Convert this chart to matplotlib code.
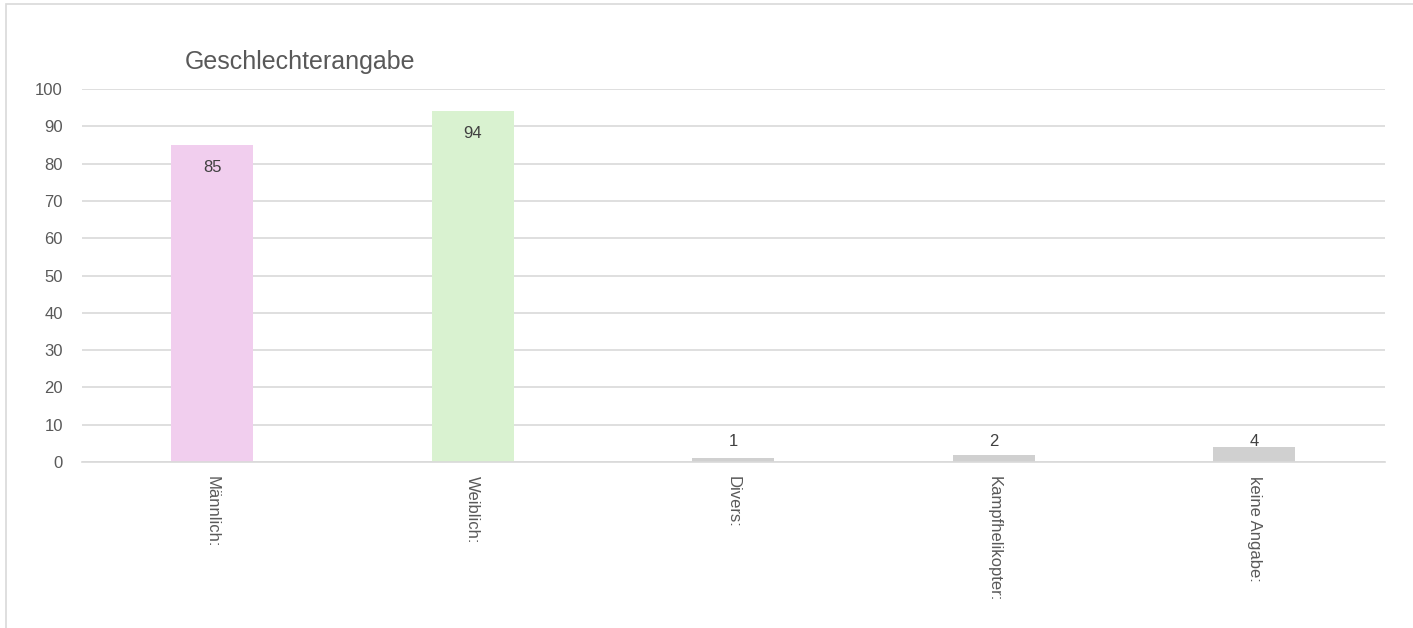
import matplotlib.pyplot as plt
from matplotlib.patches import Rectangle

# data
categories = ["Männlich:", "Weiblich:", "Divers:", "Kampfhelikopter:", "keine Angabe:"]
counts = [85, 94, 1, 2, 4]
colors = ["#F1CEEE", "#D9F2D0", "#D0D0D0", "#D0D0D0", "#D0D0D0"]

plt.rcParams['font.family'] = ['Liberation Sans', 'DejaVu Sans']
grey = "#595959"

fig = plt.figure(figsize=(14.13, 6.28), dpi=100)
ax = fig.add_axes([0.058, 0.2643, 0.922, 0.594])

x = range(len(categories))
bars = ax.bar(x, counts, width=0.315, color=colors, zorder=2)

# value labels like excel "inside end": short bars get the label pushed up from the base
for i, v in enumerate(counts):
    if v > 10:
        ax.annotate(str(v), (i, v), xytext=(0, -16), textcoords='offset points',
                    ha='center', va='center', fontsize=12, color="#404040")
    else:
        ax.annotate(str(v), (i, 0), xytext=(0, 15), textcoords='offset points',
                    ha='center', va='center', fontsize=12, color="#404040")

ax.set_xlim(-0.5, len(categories) - 0.5)
ax.set_ylim(0, 100)
ax.set_yticks(range(0, 101, 10))
ax.yaxis.grid(True, color="#D9D9D9", linewidth=1.2, zorder=0)
ax.set_axisbelow(True)
for s in ['top', 'right', 'left']:
    ax.spines[s].set_visible(False)
ax.spines['bottom'].set_color("#D9D9D9")
ax.spines['bottom'].set_linewidth(1.2)
ax.tick_params(axis='both', length=0, colors=grey, labelsize=12)
ax.tick_params(axis='y', pad=13.7)
ax.set_xticks(list(x))
ax.set_xticklabels(categories, rotation=270, va='top', ha='center')
ax.tick_params(axis='x', pad=10)

fig.text(0.131, 0.901, "Geschlechterangabe", fontsize=18, color=grey, ha='left', va='center')

# chart border (cropped at right and bottom)
fig.add_artist(Rectangle((6 / 1413, -0.1), 1.2, 1.1 - 4 / 628, transform=fig.transFigure,
                         fill=False, edgecolor="#D9D9D9", linewidth=1.2))

fig.savefig("out.png", dpi=100)
